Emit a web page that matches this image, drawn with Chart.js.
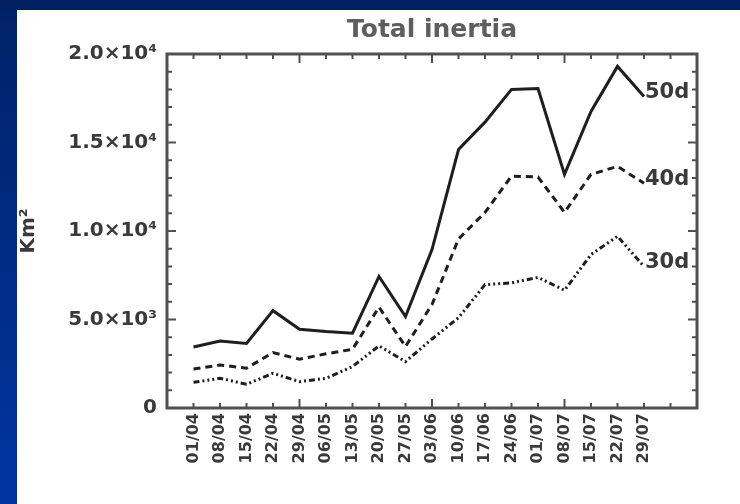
<!DOCTYPE html>
<html>
<head>
<meta charset="utf-8">
<title>Total inertia</title>
<style>
  html, body { margin: 0; padding: 0; background: #fff; }
  #wrap { width: 740px; height: 504px; }
</style>
<script src="https://cdn.jsdelivr.net/npm/chart.js@4.4.1/dist/chart.umd.min.js"></script>
</head>
<body>
<div id="wrap"><canvas id="chart" width="740" height="504"></canvas></div>
<script>
  // weekly dates, placed at x = 1..18 on a 0..20 axis
  const DATE_LABELS = [
    "01/04", "08/04", "15/04", "22/04", "29/04", "06/05", "13/05", "20/05", "27/05",
    "03/06", "10/06", "17/06", "24/06", "01/07", "08/07", "15/07", "22/07", "29/07",
  ];
  const INERTIA_50D = [3450, 3780, 3650, 5500, 4450, 4320, 4230, 7430, 5170, 8950, 14600, 16150, 18000, 18050, 13200, 16750, 19300, 17600];
  const INERTIA_40D = [2200, 2430, 2250, 3130, 2760, 3060, 3320, 5700, 3470, 5850, 9550, 11050, 13100, 13050, 11050, 13200, 13650, 12700];
  const INERTIA_30D = [1450, 1680, 1340, 1960, 1490, 1680, 2340, 3510, 2620, 3900, 5100, 6970, 7070, 7380, 6650, 8670, 9700, 8000];
  const SERIES_NAMES = ["50d", "40d", "30d"];
  const Y_TICK_LABELS = { 0: "0", 5000: "5.0×10³", 10000: "1.0×10⁴", 15000: "1.5×10⁴", 20000: "2.0×10⁴" };

  const X_MIN = 0;
  const X_MAX = 20;
  const Y_MIN = 0;
  const Y_MAX = 20000;
  const INK = "#3a3a3a";
  const FONT = "'DejaVu Sans', sans-serif";

  function toPoints(values) {
    return values.map((v, i) => ({ x: i + 1, y: v }));
  }

  const backdrop = {
    id: "backdrop",
    beforeDraw(chart) {
      const { ctx, width, height } = chart;
      ctx.save();
      ctx.fillStyle = "#fff";
      ctx.fillRect(0, 0, width, height);
      const grad = ctx.createLinearGradient(0, 0, 0, height);
      grad.addColorStop(0, "#002266");
      grad.addColorStop(1, "#0035a2");
      ctx.fillStyle = grad;
      ctx.fillRect(0, 0, 17, height);
      ctx.fillStyle = "#002062";
      ctx.fillRect(0, 0, width, 10);
      ctx.restore();
    },
  };

  // box round the plot with inward ticks on all four sides
  const frame = {
    id: "frame",
    afterDatasetsDraw(chart) {
      const { ctx, chartArea: a, scales } = chart;
      const x = scales.x;
      const y = scales.y;
      ctx.save();
      ctx.strokeStyle = "#505050";
      ctx.lineWidth = 2;
      ctx.beginPath();
      for (let v = X_MIN; v <= X_MAX; v++) {
        const px = x.getPixelForValue(v);
        const len = v % 5 === 0 ? 9 : 5;
        ctx.moveTo(px, a.bottom);
        ctx.lineTo(px, a.bottom - len);
        ctx.moveTo(px, a.top);
        ctx.lineTo(px, a.top + len);
      }
      for (let v = Y_MIN; v <= Y_MAX; v += 1000) {
        const py = y.getPixelForValue(v);
        const len = v % 5000 === 0 ? 9 : 5;
        ctx.moveTo(a.left, py);
        ctx.lineTo(a.left + len, py);
        ctx.moveTo(a.right, py);
        ctx.lineTo(a.right - len, py);
      }
      ctx.stroke();
      ctx.lineWidth = 3;
      ctx.strokeRect(a.left, a.top, a.right - a.left, a.bottom - a.top);
      ctx.restore();
    },
  };

  // "50d" style names written just right of each line's last point
  const endLabels = {
    id: "endLabels",
    afterDatasetsDraw(chart) {
      const { ctx } = chart;
      ctx.save();
      ctx.font = `bold 21px ${FONT}`;
      ctx.fillStyle = INK;
      ctx.textAlign = "left";
      ctx.textBaseline = "middle";
      chart.data.datasets.forEach((ds, i) => {
        const pts = chart.getDatasetMeta(i).data;
        const last = pts[pts.length - 1];
        ctx.fillText(ds.label, last.x + 1, last.y - 4);
      });
      ctx.restore();
    },
  };

  const lineStyle = {
    borderColor: "#1e1e1e",
    borderWidth: 3,
    pointRadius: 0,
    tension: 0,
    fill: false,
  };

  new Chart(document.getElementById("chart"), {
    type: "line",
    data: {
      datasets: [
        { ...lineStyle, label: SERIES_NAMES[0], data: toPoints(INERTIA_50D) },
        { ...lineStyle, label: SERIES_NAMES[1], data: toPoints(INERTIA_40D), borderDash: [7, 5] },
        { ...lineStyle, label: SERIES_NAMES[2], data: toPoints(INERTIA_30D), borderDash: [6, 3, 2, 3, 2, 3, 2, 3] },
      ],
    },
    options: {
      responsive: false,
      animation: false,
      layout: { padding: { top: 10, left: 17, right: 43, bottom: 0 } },
      plugins: {
        legend: { display: false },
        tooltip: { enabled: false },
        title: {
          display: true,
          text: "Total inertia",
          fullSize: false,
          color: "#5e5e5e",
          font: { family: FONT, size: 25, weight: "bold" },
          padding: { top: 5, bottom: 9 },
        },
      },
      scales: {
        x: {
          type: "linear",
          min: X_MIN,
          max: X_MAX,
          grid: { display: false, drawTicks: false },
          border: { display: false },
          afterFit(scale) {
            scale.height = 96;
          },
          ticks: {
            stepSize: 1,
            autoSkip: false,
            minRotation: 90,
            maxRotation: 90,
            padding: 5,
            color: INK,
            font: { family: FONT, size: 16, weight: "bold" },
            callback: (v) => DATE_LABELS[v - 1] ?? "",
          },
        },
        y: {
          min: Y_MIN,
          max: Y_MAX,
          grid: { display: false, drawTicks: false },
          border: { display: false },
          afterFit(scale) {
            scale.width = 150;
          },
          title: {
            display: true,
            text: "Km²",
            color: INK,
            font: { family: FONT, size: 20, weight: "bold" },
            padding: { top: 0, bottom: 0 },
          },
          ticks: {
            stepSize: 1000,
            autoSkip: false,
            padding: 10,
            color: INK,
            font: { family: FONT, size: 20, weight: "bold" },
            callback: (v) => Y_TICK_LABELS[v] ?? "",
          },
        },
      },
    },
    plugins: [backdrop, frame, endLabels],
  });
</script>
</body>
</html>
